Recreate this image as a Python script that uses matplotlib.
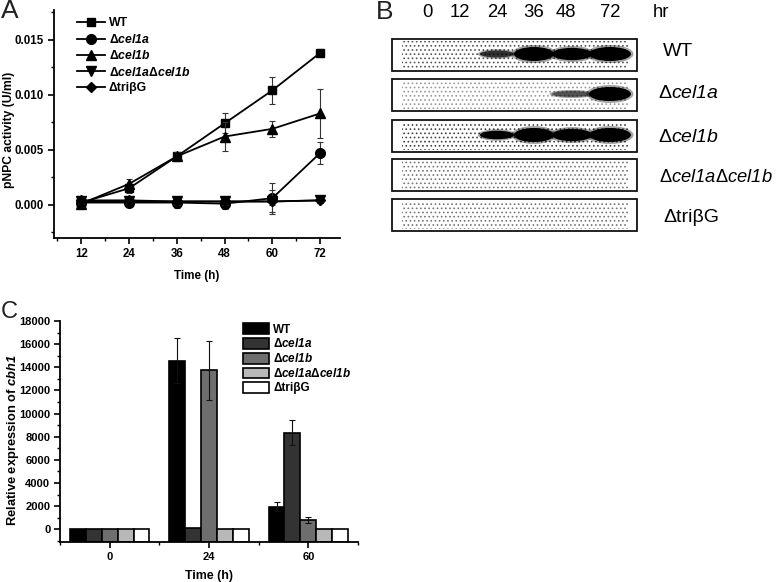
import numpy as np
import matplotlib
matplotlib.use("Agg")
import matplotlib.pyplot as plt
from matplotlib.patches import Rectangle, Ellipse
from matplotlib.ticker import MultipleLocator

plt.rcParams['font.family'] = ['Liberation Sans', 'DejaVu Sans']
plt.rcParams['mathtext.fontset'] = 'custom'
plt.rcParams['mathtext.rm'] = 'Liberation Sans'
plt.rcParams['mathtext.sf'] = 'Liberation Sans:italic'
plt.rcParams['mathtext.bf'] = 'Liberation Sans:bold'
plt.rcParams['mathtext.bfit'] = 'Liberation Sans:italic:bold'
plt.rcParams['hatch.linewidth'] = 0.7

# panel A
hours = [12, 24, 36, 48, 60, 72]
wt = [0.0002, 0.0015, 0.0044, 0.0074, 0.0104, 0.0138]
wt_err = [0.0001, 0.0004, 0.0003, 0.0009, 0.0012, 0.0004]
cel1a = [0.0002, 0.0002, 0.0002, 0.0001, 0.0006, 0.0047]
cel1a_err = [0.0002, 0.0002, 0.0005, 0.0005, 0.0014, 0.0010]
cel1b = [0.0001, 0.0019, 0.0044, 0.0062, 0.0069, 0.0083]
cel1b_err = [0.0001, 0.0004, 0.0004, 0.0013, 0.0007, 0.0022]
double = [0.0003, 0.0003, 0.0003, 0.0003, 0.0003, 0.0004]
double_err = [0.0002, 0.0002, 0.0003, 0.0003, 0.0003, 0.0002]
tri = [0.0004, 0.0004, 0.0003, 0.0003, 0.0003, 0.0004]
tri_err = [0.0002, 0.0002, 0.0002, 0.0002, 0.0010, 0.0002]

# panel B
blot_hours = ['0', '12', '24', '36', '48', '72']
blot_names = ['WT', 'Δ$\\mathsf{cel1a}$', 'Δ$\\mathsf{cel1b}$',
              'Δ$\\mathsf{cel1a}$Δ$\\mathsf{cel1b}$', 'ΔtriβG']
blot_bands = [[0, 0, 0.35, 1, 0.85, 1],
              [0, 0, 0, 0, 0.25, 1],
              [0, 0, 0.5, 1, 0.85, 1],
              [0, 0, 0, 0, 0, 0],
              [0, 0, 0, 0, 0, 0]]
blot_grey = ['#555555', '#999999', '#444444', '#777777', '#777777']

# panel C
times = ['0', '24', '60']
bar_names = ['WT', 'Δ$\\mathbfit{cel1a}$', 'Δ$\\mathbfit{cel1b}$',
             'Δ$\\mathbfit{cel1a}$Δ$\\mathbfit{cel1b}$', 'ΔtriβG']
bar_vals = [[30, 14550, 1950],
            [30, 80, 8350],
            [30, 13750, 800],
            [30, 30, 30],
            [30, 30, 30]]
bar_errs = [[0, 1950, 400],
            [0, 0, 1100],
            [0, 2550, 300],
            [0, 0, 0],
            [0, 0, 0]]
bar_colors = ['#000000', '#333333', '#6e6e6e', '#b8b8b8', '#ffffff']

W, H = 777, 582
fig = plt.figure(figsize=(W / 100, H / 100), dpi=100)


def px_axes(left, top, right, bottom):
    return fig.add_axes([left / W, 1 - bottom / H, (right - left) / W, (bottom - top) / H])


def style(ax, size):
    ax.spines['top'].set_visible(False)
    ax.spines['right'].set_visible(False)
    ax.spines['left'].set_linewidth(1.3)
    ax.spines['bottom'].set_linewidth(1.3)
    ax.tick_params(which='major', length=4, width=1.2, labelsize=size, pad=3)
    ax.tick_params(which='minor', length=2.5, width=1.0)
    for t in ax.get_xticklabels() + ax.get_yticklabels():
        t.set_fontweight('bold')


#%% Panel A
ax = px_axes(53.5, 10, 340, 238)
series = [(wt, wt_err, 's', 5.8, 'WT'),
          (cel1a, cel1a_err, 'o', 7, bar_names[1]),
          (cel1b, cel1b_err, '^', 7.5, bar_names[2]),
          (double, double_err, 'v', 7.5, bar_names[3]),
          (tri, tri_err, 'D', 5, bar_names[4])]
for vals, errs, marker, ms, name in series:
    ax.errorbar(hours, vals, yerr=errs, fmt='none', ecolor='#333333', elinewidth=0.8,
                capsize=2.2, capthick=0.8)
    ax.plot(hours, vals, color='black', marker=marker, ms=ms, lw=1.3, label=name)
ax.set_xlim(5, 77)
ax.set_ylim(-0.00302, 0.0177)
ax.set_xticks(hours)
ax.xaxis.set_minor_locator(MultipleLocator(6))
ax.set_yticks([0, 0.005, 0.010, 0.015])
ax.set_yticklabels(['0.000', '0.005', '0.010', '0.015'])
ax.yaxis.set_minor_locator(MultipleLocator(0.0025))
style(ax, 8.3)
ax.set_xlabel('Time (h)', fontsize=8.4, fontweight='bold', labelpad=7.5)
ax.set_ylabel('pNPC activity (U/ml)', fontsize=8.7, fontweight='bold')
ax.yaxis.set_label_coords(-0.135, 0.474)
ax.legend(loc='upper left', bbox_to_anchor=(0.075, 0.978), frameon=False,
          prop={'size': 8.8, 'weight': 'bold'}, handlelength=2.25, handletextpad=0.3,
          labelspacing=0.28, borderaxespad=0, borderpad=0.2)

#%% Panel C
ax = px_axes(60, 321, 358, 542)
xpos = np.arange(len(times))
bar_w = 0.16
y_low = -1100
for i in range(5):
    # bars stand on the bottom axis, as in the original
    ax.bar(xpos + (i - 2) * bar_w, np.array(bar_vals[i]) - y_low, bar_w, bottom=y_low,
           color=bar_colors[i], edgecolor='black', lw=1.2, label=bar_names[i])
    keep = [j for j in range(3) if bar_errs[i][j] > 0]
    ax.errorbar(xpos[keep] + (i - 2) * bar_w, np.array(bar_vals[i])[keep],
                yerr=np.array(bar_errs[i])[keep], fmt='none', ecolor='#111111',
                elinewidth=0.8, capsize=2.2, capthick=0.8)
ax.set_xlim(-0.5, 2.5)
ax.set_ylim(y_low, 18000)
ax.set_xticks(xpos)
ax.set_xticklabels(times)
ax.set_xticks([-0.5, 0.5, 1.5, 2.5], minor=True)
ax.set_yticks(np.arange(0, 18001, 2000))
ax.yaxis.set_minor_locator(MultipleLocator(1000))
style(ax, 8)
ax.set_xlabel('Time (h)', fontsize=8.9, fontweight='bold', labelpad=6)
ax.set_ylabel('Relative expression of $\\mathbfit{cbh1}$', fontsize=9.3, fontweight='bold')
ax.yaxis.set_label_coords(-0.13, 0.461)
ax.legend(loc='upper left', bbox_to_anchor=(0.615, 0.99), frameon=False,
          prop={'size': 8.5, 'weight': 'bold'}, handlelength=2.2, handleheight=1.05,
          handletextpad=0.35, labelspacing=0.15, borderaxespad=0, borderpad=0)

#%% Panel B and letters, in figure pixels
over = fig.add_axes([0, 0, 1, 1])
over.set_xlim(0, W)
over.set_ylim(H, 0)
over.axis('off')
over.patch.set_alpha(0)

lane_x = [427, 460, 497, 534, 566, 610]
band_x = [427, 460, 497, 534, 572, 610]
band_w = [33, 33, 34, 40, 40, 42]
box_tops = [39, 79, 120, 159, 199]
name_x = [663, 658, 658, 659, 663]
name_y = [51, 94, 138, 178, 217]
name_size = [14, 14, 14, 13.2, 14]
for lab, x in zip(blot_hours, lane_x):
    over.text(x, 12.5, lab, fontsize=13.3, ha='center', va='center')
over.text(653, 12.5, 'hr', fontsize=13.3, va='center')
for i, top in enumerate(box_tops):
    over.add_patch(Rectangle((402, top + 2), 226, 28, fill=False, hatch='....',
                             edgecolor=blot_grey[i], lw=0))
    for x, w, b in zip(band_x, band_w, blot_bands[i]):
        if b > 0:
            over.add_patch(Ellipse((x, top + 15), w * 1.12, 5 + 13 * b, color='black', lw=0, alpha=0.35))
            over.add_patch(Ellipse((x, top + 15), w, 3 + 11 * b, color='black', lw=0, alpha=min(1, b * 2)))
    over.add_patch(Rectangle((392, top), 245, 31.5, fill=False, edgecolor='#111111', lw=1.3))
    over.text(name_x[i], name_y[i], blot_names[i], fontsize=name_size[i], va='center')

over.text(1, 18, 'A', fontsize=19, color='#222222')
over.text(376, 19, 'B', fontsize=19, color='#222222')
over.text(1, 318, 'C', fontsize=17, color='#222222')

fig.savefig('out.png', dpi=100)
